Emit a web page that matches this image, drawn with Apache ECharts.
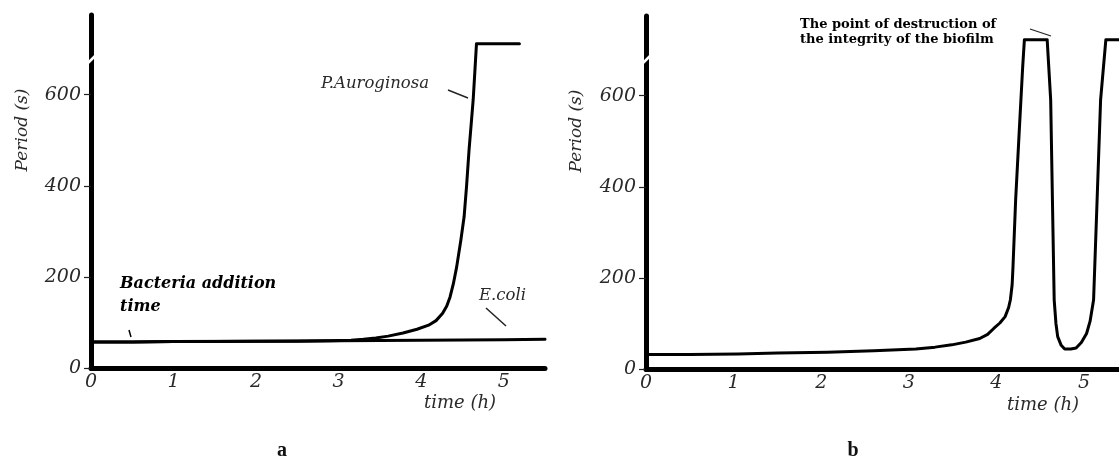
<!DOCTYPE html>
<html><head><meta charset="utf-8">
<script src="https://cdn.jsdelivr.net/npm/echarts@6/dist/echarts.min.js"></script>
<style>html,body{margin:0;padding:0;background:#fff}#c{width:1119px;height:459px}</style>
</head><body><div id="c"></div>
<script>
// ---- data ----
const xTicks = [0, 1, 2, 3, 4, 5];
const yTicks = [0, 200, 400, 600];
const ecoliData = [[0,57],[0.5,57],[1,58],[2,59],[3,60],[4,61],[5,62],[5.5,63]];
const pAurogData = [[0,57],[0.5,57],[1,58],[1.5,58],[2,59],[2.5,59],[2.9,60],[3.15,61],[3.3,63],[3.45,66],[3.6,70],[3.78,77],[3.95,85],[4.09,94],[4.18,104],[4.26,120],[4.31,136],[4.35,156],[4.39,185],[4.43,222],[4.48,280],[4.52,332],[4.55,400],[4.58,479],[4.61,545],[4.63,589],[4.65,650],[4.67,712],[5.19,712]];
const biofilmData = [[0,32],[0.5,32],[1.05,33],[1.5,35],[2.07,37],[2.6,40],[3.08,44],[3.3,48],[3.49,53],[3.65,59],[3.81,67],[3.9,76],[3.97,89],[4.04,101],[4.1,115],[4.14,135],[4.16,152],[4.18,185],[4.19,225],[4.22,371],[4.26,518],[4.3,662],[4.32,723],[4.58,723],[4.62,591],[4.64,371],[4.66,152],[4.68,100],[4.7,71],[4.74,52],[4.78,44],[4.85,44],[4.91,46],[4.97,58],[5.03,78],[5.07,105],[5.11,152],[5.15,371],[5.19,591],[5.25,723],[5.4,723]];
const panelLabels = ['a', 'b'];
const yTitle = 'Period (s)';
const xTitle = 'time (h)';

const chart = echarts.init(document.getElementById('c'));
const italic = {fontFamily: 'DejaVu Serif', fontStyle: 'italic', color: '#2a2a2a'};

function xAx(gi, max) {
  return {
    type: 'value', gridIndex: gi, min: 0, max: max, interval: 1,
    axisLine: {show: true, lineStyle: {color: '#000', width: 5}},
    axisTick: {show: true, length: 3, lineStyle: {color: '#000', width: 2}, customValues: xTicks},
    axisLabel: Object.assign({fontSize: 19, margin: 5, customValues: xTicks}, italic),
    splitLine: {show: false}
  };
}
function yAx(gi) {
  return {
    type: 'value', gridIndex: gi, min: 0, max: 775, interval: 200,
    axisLine: {show: true, lineStyle: {color: '#000', width: 5}},
    axisTick: {show: true, length: 7, lineStyle: {color: '#222', width: 1.2}, customValues: yTicks},
    axisLabel: Object.assign({fontSize: 19, margin: 10, customValues: yTicks}, italic),
    splitLine: {show: false}
  };
}
const lineS = (name, gi, data) => ({
  name, type: 'line', xAxisIndex: gi, yAxisIndex: gi, data,
  showSymbol: false, symbol: 'none', smooth: false, clip: false,
  lineStyle: {color: '#000', width: 3, join: 'round', cap: 'round'}, z: 1
});

chart.setOption({
  animation: false,
  backgroundColor: '#fff',
  grid: [
    {left: 91, top: 15, width: 454, height: 353},
    {left: 646, top: 16, width: 475, height: 353}
  ],
  xAxis: [xAx(0, 5.5), xAx(1, 5.4)],
  yAxis: [yAx(0), yAx(1)],
  series: [
    lineS('E.coli', 0, ecoliData),
    lineS('P.Auroginosa', 0, pAurogData),
    lineS('biofilm', 1, biofilmData)
  ]
});

const T = (text, x, y, style, extra) => Object.assign({
  type: 'text', x, y, silent: true,
  style: Object.assign({text, fill: '#2a2a2a', align: 'left', verticalAlign: 'middle'}, style)
}, extra || {});
const L = (x1, y1, x2, y2, w, c) => ({type: 'line', silent: true, shape: {x1, y1, x2, y2}, style: {stroke: c || '#222', lineWidth: w || 1.5}, z: 10});
const it = (s) => ({font: 'italic ' + s + 'px "DejaVu Serif"'});

const g = [];
// axis titles
g.push(T(yTitle, 23, 130, Object.assign(it(17), {align: 'center'}), {rotation: Math.PI / 2}));
g.push(T(yTitle, 577, 131, Object.assign(it(17), {align: 'center'}), {rotation: Math.PI / 2}));
g.push(T(xTitle, 460, 403, Object.assign(it(18), {align: 'center'})));
g.push(T(xTitle, 1043, 405, Object.assign(it(18), {align: 'center'})));
// panel letters
g.push(T(panelLabels[0], 282, 451, {font: 'bold 20px "Liberation Serif"', align: 'center', fill: '#111'}));
g.push(T(panelLabels[1], 853, 451, {font: 'bold 20px "Liberation Serif"', align: 'center', fill: '#111'}));
// annotations left
g.push(T('P.Auroginosa', 321, 84, it(16.5)));
g.push(L(448, 90, 468, 98));
g.push(T('E.coli', 479, 296, it(16.5)));
g.push(L(486, 308, 506, 326));
g.push(T('Bacteria addition', 120, 284, {font: 'italic bold 16px "DejaVu Serif"', fill: '#000'}));
g.push(T('time', 120, 307, {font: 'italic bold 16px "DejaVu Serif"', fill: '#000'}));
g.push(L(129, 330, 131, 337, 1.5, '#000'));
// annotation right
g.push(T('The point of destruction of', 800, 25, {font: 'bold 13px "DejaVu Serif"', fill: '#000'}));
g.push(T('the integrity of the biofilm', 800, 40, {font: 'bold 13px "DejaVu Serif"', fill: '#000'}));
g.push(L(1030, 29, 1051, 36, 1.2));
// axis breaks
g.push(L(87, 64, 95, 56, 2.5, '#fff'));
g.push(L(642, 64, 650, 56, 2.5, '#fff'));

chart.setOption({graphic: {elements: g}});
</script></body></html>
